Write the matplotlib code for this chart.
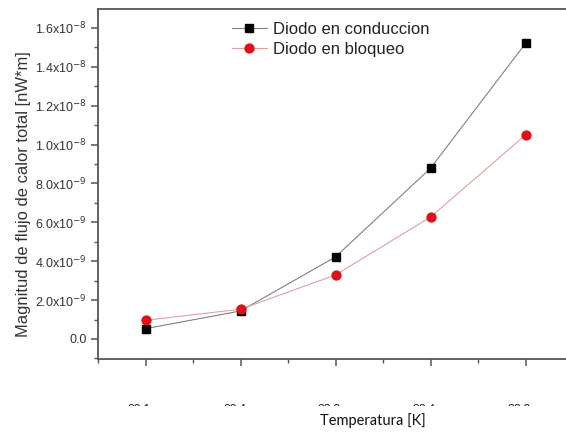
import matplotlib
matplotlib.use("Agg")
import matplotlib.pyplot as plt
from matplotlib.ticker import MultipleLocator, FixedLocator
from matplotlib.transforms import Bbox

x_pos = [1, 2, 3, 4, 5]
x_labels = ["22.1", "22.4", "22.8", "23.4", "23.8"]
conduccion = [0.53e-9, 1.44e-9, 4.22e-9, 8.78e-9, 15.2e-9]
bloqueo = [0.96e-9, 1.53e-9, 3.29e-9, 6.27e-9, 10.49e-9]
y_ticks = [0.0, 2e-9, 4e-9, 6e-9, 8e-9, 1.0e-8, 1.2e-8, 1.4e-8, 1.6e-8]
y_tick_labels = ["0.0", "2.0x10$^{-9}$", "4.0x10$^{-9}$", "6.0x10$^{-9}$", "8.0x10$^{-9}$",
                 "1.0x10$^{-8}$", "1.2x10$^{-8}$", "1.4x10$^{-8}$", "1.6x10$^{-8}$"]

W, H = 566, 441
fig = plt.figure(figsize=(W / 100, H / 100), dpi=100)
ax = fig.add_axes([98 / W, (H - 359) / H, 475 / W, 350 / H])

spine_c = "#555555"
ax.plot(x_pos, conduccion, color="#808080", lw=0.8, marker="s", ms=5.3,
        mfc="black", mec="black", label="Diodo en conduccion", zorder=3)
ax.plot(x_pos, bloqueo, color="#e0a0a0", lw=0.8, marker="o", ms=6.4,
        mfc="#e01018", mec="#e01018", label="Diodo en bloqueo", zorder=4)

ax.set_xlim(0.5, 5.5)
ax.set_ylim(-1.03e-9, 1.697e-8)
ax.xaxis.set_major_locator(FixedLocator(x_pos))
ax.xaxis.set_minor_locator(MultipleLocator(0.5))
ax.set_xticklabels([])
ax.set_yticks(y_ticks)
ax.set_yticklabels(y_tick_labels, fontsize=9, color="#333333", family="Liberation Sans")
ax.yaxis.set_minor_locator(MultipleLocator(1e-9))

for s in ["left", "bottom", "top"]:
    ax.spines[s].set_color(spine_c)
    ax.spines[s].set_linewidth(1.3)
ax.spines["right"].set_visible(False)
ax.tick_params(which="major", direction="out", length=5, width=1.1, color=spine_c, pad=3)
ax.tick_params(which="minor", direction="out", length=3, width=1.0, color=spine_c)
ax.tick_params(top=False, right=False, which="both")

ax.set_ylabel("Magnitud de flujo de calor total [nW*m]", fontsize=11.9,
              family="Liberation Sans", color="#333333")
ax.yaxis.set_label_coords((31 - 98) / 475, (359 - 194) / 350)

leg = ax.legend(loc="upper left", bbox_to_anchor=((219 - 98) / 475, 1.0), frameon=False,
                prop={"family": "Liberation Sans", "size": 12},
                handlelength=2.1, handletextpad=0.4, labelspacing=0.35,
                borderaxespad=0.35)
for t in leg.get_texts():
    t.set_color("#222222")

# Truncated tick labels (only the very top of the digits is visible)
clip = Bbox.from_extents(0, H - 406, W, H - 402)
for xp, lab in zip(x_pos, x_labels):
    xd = ax.transData.transform((xp, 0))[0] - 6
    t = fig.text(xd / W, (H - 411.5) / H, lab, ha="center", va="baseline",
                 fontsize=8.5, family="Lato", color="#111111")
    t.set_clip_box(clip)
    t.set_clip_on(True)

fig.text(373 / W, (H - 421) / H, "Temperatura [K]", ha="center", va="center",
         fontsize=10.5, family="Lato", color="#111111")

fig.savefig("out.png", dpi=100)
